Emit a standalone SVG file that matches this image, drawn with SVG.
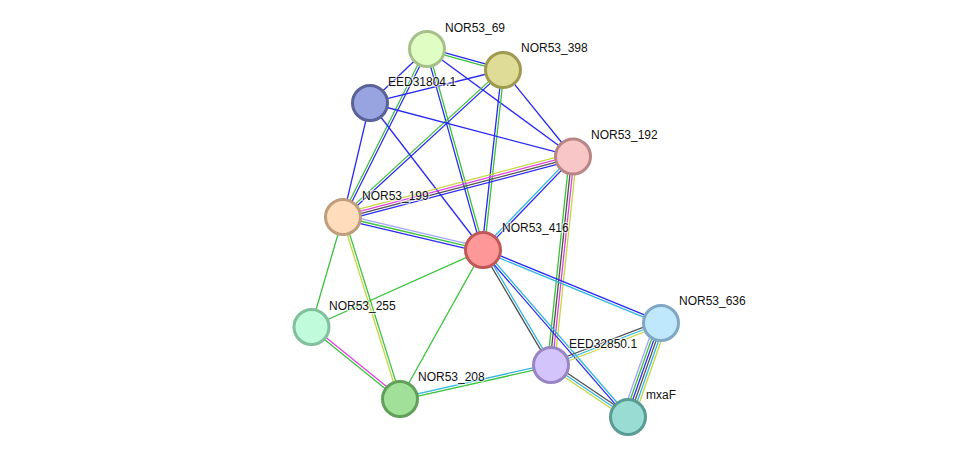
<svg xmlns="http://www.w3.org/2000/svg" width="976" height="462" viewBox="0 0 976 462">
<style>
line{stroke-width:1.3;fill:none}
.g{stroke:#3cc23c}.b{stroke:#2a2af2}.y{stroke:#c4d640}.m{stroke:#e040e0}.k{stroke:#505050}.c{stroke:#34b6e0}.l{stroke:#a4a4ff}
circle{stroke-width:3}
text{font-family:"Liberation Sans",Arial,sans-serif;font-size:12px;fill:#111;stroke:#fff;stroke-width:2.5;stroke-opacity:0.6;paint-order:stroke;stroke-linejoin:round}
</style>
<rect width="976" height="462" fill="#fff"/>
<g id="connectors">
<g transform="translate(427,49) rotate(15.45)"><line class="b" x1="0" y1="-1.2" x2="78.85" y2="-1.2"/><line class="g" x1="0" y1="1.2" x2="78.85" y2="1.2"/></g>
<g transform="translate(427,49) rotate(136.55)"><line class="b" x1="0" y1="0" x2="78.5" y2="0"/></g>
<g transform="translate(427,49) rotate(116.57)"><line class="g" x1="0" y1="1.2" x2="187.8" y2="1.2"/><line class="b" x1="0" y1="-1.2" x2="187.8" y2="-1.2"/></g>
<g transform="translate(427,49) rotate(74.43)"><line class="b" x1="0" y1="1.2" x2="208.7" y2="1.2"/><line class="g" x1="0" y1="-1.2" x2="208.7" y2="-1.2"/></g>
<g transform="translate(427,49) rotate(36.24)"><line class="b" x1="0" y1="0" x2="181" y2="0"/></g>
<g transform="translate(503,70) rotate(166.07)"><line class="b" x1="0" y1="0" x2="137" y2="0"/></g>
<g transform="translate(503,70) rotate(137.42)"><line class="g" x1="0" y1="1.2" x2="217.3" y2="1.2"/><line class="b" x1="0" y1="-1.2" x2="217.3" y2="-1.2"/></g>
<g transform="translate(503,70) rotate(96.34)"><line class="b" x1="0" y1="1.2" x2="181.1" y2="1.2"/><line class="g" x1="0" y1="-1.2" x2="181.1" y2="-1.2"/></g>
<g transform="translate(503,70) rotate(51.02)"><line class="b" x1="0" y1="0" x2="111.3" y2="0"/></g>
<g transform="translate(370,103) rotate(14.76)"><line class="b" x1="0" y1="0" x2="209.9" y2="0"/></g>
<g transform="translate(370,103) rotate(103.32)"><line class="b" x1="0" y1="0" x2="117.2" y2="0"/></g>
<g transform="translate(370,103) rotate(52.45)"><line class="b" x1="0" y1="0" x2="185.4" y2="0"/></g>
<g transform="translate(573,156.5) rotate(165.26)"><line class="y" x1="0" y1="3.6" x2="237.8" y2="3.6"/><line class="m" x1="0" y1="1.2" x2="237.8" y2="1.2"/><line class="k" x1="0" y1="-1.2" x2="237.8" y2="-1.2"/><line class="b" x1="0" y1="-3.6" x2="237.8" y2="-3.6"/></g>
<g transform="translate(573,156.5) rotate(133.91)"><line class="c" x1="0" y1="1.2" x2="129.8" y2="1.2"/><line class="b" x1="0" y1="-1.2" x2="129.8" y2="-1.2"/></g>
<g transform="translate(573,156.5) rotate(96.02)"><line class="g" x1="0" y1="3.6" x2="209.7" y2="3.6"/><line class="k" x1="0" y1="1.2" x2="209.7" y2="1.2"/><line class="m" x1="0" y1="-1.2" x2="209.7" y2="-1.2"/><line class="y" x1="0" y1="-3.6" x2="209.7" y2="-3.6"/></g>
<g transform="translate(343,217) rotate(13.26)"><line class="l" x1="0" y1="-2.4" x2="143.8" y2="-2.4"/><line class="g" x1="0" y1="0" x2="143.8" y2="0"/><line class="b" x1="0" y1="2.4" x2="143.8" y2="2.4"/></g>
<g transform="translate(343,217) rotate(106.22)"><line class="g" x1="0" y1="0" x2="114.6" y2="0"/></g>
<g transform="translate(343,217) rotate(72.61)"><line class="y" x1="0" y1="1.2" x2="190.7" y2="1.2"/><line class="g" x1="0" y1="-1.2" x2="190.7" y2="-1.2"/></g>
<g transform="translate(483,250) rotate(155.88)"><line class="g" x1="0" y1="0" x2="188.4" y2="0"/></g>
<g transform="translate(483,250) rotate(119.12)"><line class="g" x1="0" y1="0" x2="170.6" y2="0"/></g>
<g transform="translate(483,250) rotate(59.41)"><line class="k" x1="0" y1="1.2" x2="133.6" y2="1.2"/><line class="c" x1="0" y1="-1.2" x2="133.6" y2="-1.2"/></g>
<g transform="translate(483,250) rotate(49.03)"><line class="b" x1="0" y1="1.2" x2="221.2" y2="1.2"/><line class="c" x1="0" y1="-1.2" x2="221.2" y2="-1.2"/></g>
<g transform="translate(483,250) rotate(22.3)"><line class="b" x1="0" y1="-1.2" x2="192.4" y2="-1.2"/><line class="c" x1="0" y1="1.2" x2="192.4" y2="1.2"/></g>
<g transform="translate(311,327) rotate(38.97)"><line class="m" x1="0" y1="-1.2" x2="114.5" y2="-1.2"/><line class="g" x1="0" y1="1.2" x2="114.5" y2="1.2"/></g>
<g transform="translate(400,399) rotate(-12.69)"><line class="c" x1="0" y1="-1.2" x2="154.8" y2="-1.2"/><line class="g" x1="0" y1="1.2" x2="154.8" y2="1.2"/></g>
<g transform="translate(551,365) rotate(-20.9)"><line class="k" x1="0" y1="-2.4" x2="117.7" y2="-2.4"/><line class="c" x1="0" y1="0" x2="117.7" y2="0"/><line class="y" x1="0" y1="2.4" x2="117.7" y2="2.4"/></g>
<g transform="translate(551,365) rotate(34.03)"><line class="k" x1="0" y1="-2.4" x2="92.9" y2="-2.4"/><line class="c" x1="0" y1="0" x2="92.9" y2="0"/><line class="y" x1="0" y1="2.4" x2="92.9" y2="2.4"/></g>
<g transform="translate(661,323) rotate(109.34)"><line class="l" x1="0" y1="6" x2="99.6" y2="6"/><line class="g" x1="0" y1="3.6" x2="99.6" y2="3.6"/><line class="b" x1="0" y1="1.2" x2="99.6" y2="1.2"/><line class="k" x1="0" y1="-1.2" x2="99.6" y2="-1.2"/><line class="c" x1="0" y1="-3.6" x2="99.6" y2="-3.6"/><line class="y" x1="0" y1="-6" x2="99.6" y2="-6"/></g>
</g>
<g id="NOR53_69"><circle cx="427" cy="49" r="17.5" fill="#e0fec4" stroke="#a6c08c"/><text x="445" y="32">NOR53_69</text></g>
<g id="NOR53_398"><circle cx="503" cy="70" r="17.5" fill="#dfdc98" stroke="#9e9a50"/><text x="521" y="52">NOR53_398</text></g>
<g id="EED31804.1"><circle cx="370" cy="103" r="17.5" fill="#98a4e0" stroke="#5a6298"/><text x="388" y="86">EED31804.1</text></g>
<g id="NOR53_192"><circle cx="573" cy="156.5" r="17.5" fill="#f8c6c6" stroke="#b88686"/><text x="591" y="139">NOR53_192</text></g>
<g id="NOR53_199"><circle cx="343" cy="217" r="17.5" fill="#ffdcbc" stroke="#bf9e7e"/><text x="362" y="200">NOR53_199</text></g>
<g id="NOR53_416"><circle cx="483" cy="250" r="17.5" fill="#fe9898" stroke="#bf5858"/><text x="502" y="232">NOR53_416</text></g>
<g id="NOR53_255"><circle cx="311.5" cy="327" r="17.5" fill="#c0fcdc" stroke="#80c09a"/><text x="329" y="310">NOR53_255</text></g>
<g id="NOR53_208"><circle cx="400" cy="399" r="17.5" fill="#a0e098" stroke="#60a05a"/><text x="418" y="381">NOR53_208</text></g>
<g id="EED32850.1"><circle cx="551" cy="365" r="17.5" fill="#d4c4fc" stroke="#9886c4"/><text x="569" y="348">EED32850.1</text></g>
<g id="NOR53_636"><circle cx="661" cy="323" r="17.5" fill="#c0e8fc" stroke="#80a8c4"/><text x="679" y="305">NOR53_636</text></g>
<g id="mxaF"><circle cx="628" cy="417" r="17.5" fill="#98dcd4" stroke="#589c94"/><text x="646" y="399">mxaF</text></g>
</svg>
